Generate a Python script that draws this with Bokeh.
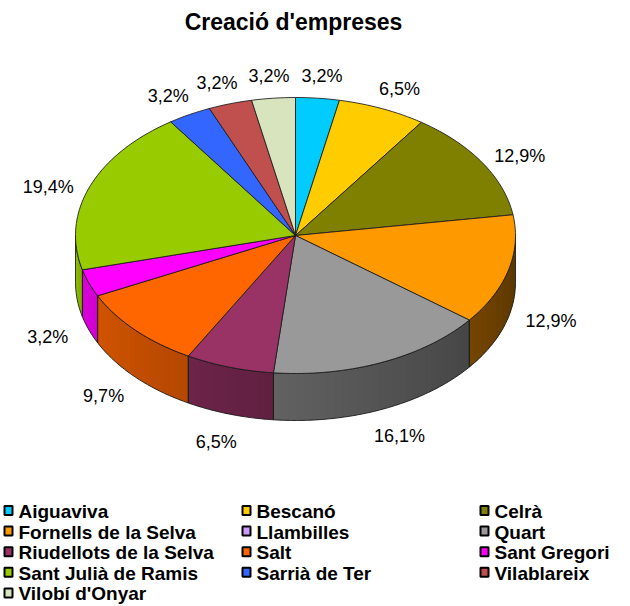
import numpy as np
from bokeh.plotting import figure
from bokeh.models import Range1d
from bokeh.embed import file_html
from bokeh.resources import INLINE
from bokeh.core.properties import value

# ---- data ----
categories = ["Aiguaviva", "Bescanó", "Celrà", "Fornells de la Selva", "Llambilles",
              "Quart", "Riudellots de la Selva", "Salt", "Sant Gregori",
              "Sant Julià de Ramis", "Sarrià de Ter", "Vilablareix", "Vilobí d'Onyar"]
percents = [3.2, 6.5, 12.9, 12.9, 0.0, 16.1, 6.5, 9.7, 3.2, 19.4, 3.2, 3.2, 3.2]
colors = ["#00CCFF", "#FFCC00", "#808000", "#FF9900", "#CC99FF", "#999999", "#993366",
          "#FF6600", "#FF00FF", "#99CC00", "#3366FF", "#C0504D", "#D7E4BD"]
title_text = "Creació d'empreses"

# ---- layout (data space = picture pixels) ----
W, H = 630, 606
cx, cy, a, b, depth = 295.0, 235.0, 220.0, 138.0, 47.0

p = figure(width=W, height=H, output_backend="svg", toolbar_location=None,
           x_range=Range1d(0, W), y_range=Range1d(H, 0),
           min_border=0, outline_line_color=None)
p.axis.visible = False
p.grid.visible = False
p.background_fill_color = "white"
p.border_fill_color = "white"


def arc(t1, t2, n=None, dy=0.0):
    if n is None:
        n = max(2, int(abs(t2 - t1) / 1.5) + 2)
    t = np.radians(np.linspace(t1, t2, n))
    return list(cx + a * np.sin(t)), list(cy - b * np.cos(t) + dy)


def shade(hexcol, f):
    h = hexcol.lstrip("#")
    r, g, bb = (int(h[i:i + 2], 16) for i in (0, 2, 4))
    return "#%02x%02x%02x" % (int(r * f), int(g * f), int(bb * f))


def side_factor(t):
    return float(np.clip(0.37 + (t - 100.0) / 160.0 * 0.5, 0.35, 0.9))


total = sum(percents)
starts, ends = [], []
acc = 0.0
for v in percents:
    starts.append(acc / total * 360.0)
    acc += v
    ends.append(acc / total * 360.0)

# side walls (front half only), drawn as overlapping strips for a smooth shading
sx, sy, sc = [], [], []
ox, oy = [], []
for v, t1, t2, col in zip(percents, starts, ends, colors):
    if v <= 0:
        continue
    lo, hi = max(t1, 90.0), min(t2, 270.0)
    if hi <= lo:
        continue
    edges = np.arange(lo, hi, 2.0).tolist() + [hi]
    for s1, s2 in zip(edges[:-1], edges[1:]):
        e2 = min(s2 + 1.0, hi)
        tx, ty = arc(s1, e2, 4)
        bx, by = arc(e2, s1, 4, dy=depth)
        sx.append(tx + bx)
        sy.append(ty + by)
        sc.append(shade(col, side_factor((s1 + s2) / 2)))
    tx, ty = arc(lo, hi)
    bx, by = arc(hi, lo, dy=depth)
    ox.append(tx + bx)
    oy.append(ty + by)

p.patches(xs=sx, ys=sy, fill_color=sc, line_color=None)
p.patches(xs=ox, ys=oy, fill_color=None, line_color="#1a1a1a", line_width=1, line_alpha=0.85)

# top face
wx, wy, wc = [], [], []
for v, t1, t2, col in zip(percents, starts, ends, colors):
    if v <= 0:
        continue
    ax_, ay_ = arc(t1, t2)
    wx.append([cx] + ax_)
    wy.append([cy] + ay_)
    wc.append(col)
p.patches(xs=wx, ys=wy, fill_color=wc, line_color="#1a1a1a", line_width=1, line_alpha=0.85)

# percentage labels
lx, ly, lt = [], [], []
for v, t1, t2 in zip(percents, starts, ends):
    if v <= 0:
        continue
    m = np.radians((t1 + t2) / 2)
    x = cx + 1.2 * a * np.sin(m)
    y = cy - 1.25 * b * np.cos(m) + 12.0 + (30.0 if np.cos(m) < 0 else 0.0)
    lx.append(x)
    ly.append(y)
    lt.append(("%.1f" % v).replace(".", ",") + "%")
p.text(x=lx, y=ly, text=lt, text_align="center", text_baseline="middle",
       text_font=value("Liberation Sans"), text_font_size="18px", text_color="black")

# title
p.text(x=[293], y=[21], text=[title_text], text_align="center", text_baseline="middle",
       text_font=value("Liberation Sans"), text_font_size="23px", text_font_style="bold",
       text_color="black")

# legend (3 columns, row-major)
col_x = [18, 256, 494]
row_y0, row_dy = 511.0, 20.6
gx, gy, gt, gc = [], [], [], []
for i, (name, col) in enumerate(zip(categories, colors)):
    r, c = divmod(i, 3)
    gx.append(col_x[c])
    gy.append(row_y0 + r * row_dy)
    gt.append(name)
    gc.append(col)
p.rect(x=[x - 10 for x in gx], y=[y - 1 for y in gy], width=8, height=9,
       fill_color=gc, line_color="black", line_width=2)
p.text(x=gx, y=gy, text=gt, text_align="left", text_baseline="middle",
       text_font=value("Liberation Sans"), text_font_size="19px", text_font_style="bold",
       text_color="black")

open("out.html", "w").write(file_html(p, INLINE))
